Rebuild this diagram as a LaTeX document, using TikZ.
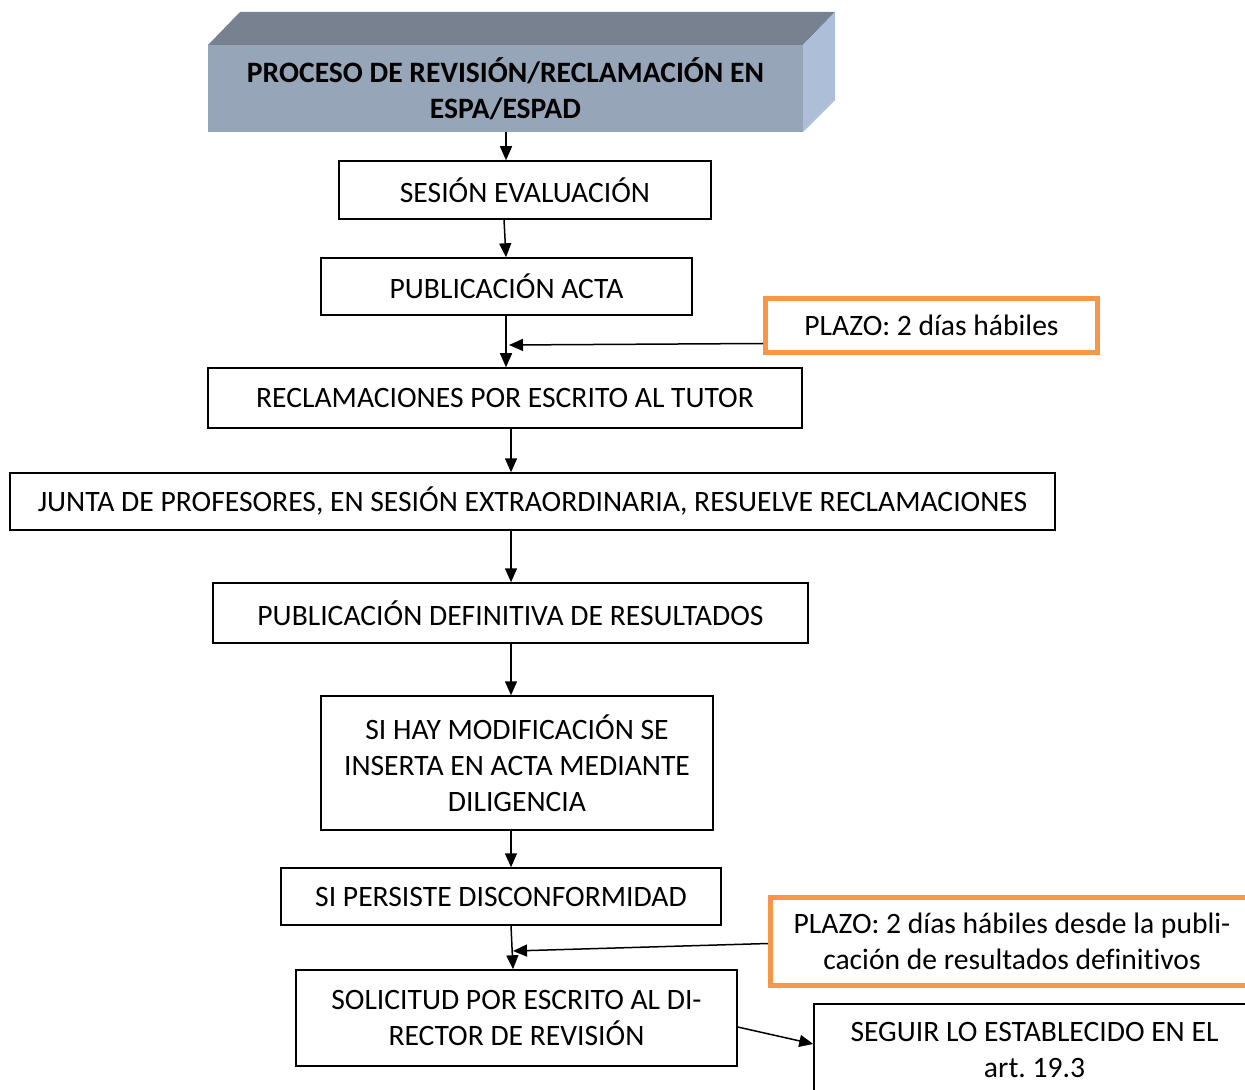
\documentclass[tikz,border=0pt]{standalone}
\usepackage{fontspec}
\setmainfont[Ligatures=NoCommon]{Carlito}
\usetikzlibrary{arrows.meta,positioning,calc}
\frenchspacing
\definecolor{plazoorange}{HTML}{F79646}
\definecolor{headtop}{HTML}{77818F}
\definecolor{headfront}{HTML}{97A5B8}
\definecolor{headside}{HTML}{ADBED8}
\tikzset{
  procbox/.style={
    draw=black,
    line width=0.75pt,
    inner sep=0pt,
    align=center,
    font=\fontsize{14.8}{18}\selectfont
  },
  plazobox/.style={
    draw=plazoorange,
    line width=2.5pt,
    inner sep=0pt,
    align=center,
    font=\fontsize{14.8}{18}\selectfont
  },
  procarrow/.style={-{Triangle[length=7pt,width=6pt]},line width=0.75pt,draw=black}
}

\begin{document}
\begin{tikzpicture}[x=0.5pt,y=-0.5pt]
\clip (0,0) rectangle (1245,1090);
% header block
\fill[headtop] (208,45) -- (240,12) -- (835,12) -- (803,45) -- cycle;
\fill[headside] (803,45) -- (835,12) -- (835,100) -- (803,132) -- cycle;
\node[fill=headfront,inner sep=0pt,minimum width=297.5pt,minimum height=43.5pt,
  align=center,font=\fontsize{14.8}{18}\selectfont\bfseries] (titulo) at (505.5,88.5)
  {PROCESO DE REVISIÓN/RECLAMACIÓN EN\\ESPA/ESPAD};
\coordinate (ejeA) at (506,0);
\coordinate (ejeB) at (511,0);
% flow
\node[procbox,minimum width=186pt,minimum height=29pt] (sesion) at (525,190) {SESIÓN EVALUACIÓN};
\node[procbox,minimum width=185.5pt,minimum height=28.5pt] (acta) at (506.5,286.5) {PUBLICACIÓN ACTA};
\node[plazobox,minimum width=166pt,minimum height=27pt] (plazo) at (931.5,325.5) {PLAZO: 2 días hábiles};
\node[procbox,minimum width=297pt,minimum height=30pt] (tutor) at (505,398) {RECLAMACIONES POR ESCRITO AL TUTOR};
\node[procbox,minimum width=522.5pt,minimum height=28.5pt] (junta) at (532.5,501.5) {JUNTA DE PROFESORES, EN SESIÓN EXTRAORDINARIA, RESUELVE RECLAMACIONES};
\node[procbox,minimum width=297.5pt,minimum height=30pt] (definitiva) at (510.5,613) {PUBLICACIÓN DEFINITIVA DE RESULTADOS};
\node[procbox,minimum width=196pt,minimum height=67pt] (modific) at (517,763) {SI HAY MODIFICACIÓN SE\\INSERTA EN ACTA MEDIANTE\\DILIGENCIA};
\node[procbox,minimum width=220pt,minimum height=28.5pt] (persiste) at (501,896.5) {SI PERSISTE DISCONFORMIDAD};
\node[plazobox,minimum width=241.75pt,minimum height=44pt] (plazodos) at (1012,941.5) {PLAZO: 2 días hábiles desde la publi-\\cación de resultados definitivos};
\node[procbox,minimum width=220.5pt,minimum height=48pt] (solicitud) at (516.5,1018) {SOLICITUD POR ESCRITO AL DI-\\RECTOR DE REVISIÓN};
\node[procbox,minimum width=220.5pt,minimum height=46pt] (seguir) at (1034.5,1050) {SEGUIR LO ESTABLECIDO EN EL\\art. 19.3};
\coordinate (m1) at (509,345);
\coordinate (m2) at (513,951);
\draw[procarrow] (titulo.south -| ejeA) -- (sesion.north -| ejeA);
\draw[procarrow] ([xshift=-10.5pt]sesion.south) -- (acta.north -| ejeA);
\draw[procarrow] (acta.south -| ejeA) -- (tutor.north -| ejeA);
\draw[procarrow] ([yshift=-9pt]plazo.west) -- (m1);
\draw[procarrow] (tutor.south -| ejeB) -- (junta.north -| ejeB);
\draw[procarrow] (junta.south -| ejeB) -- (definitiva.north -| ejeB);
\draw[procarrow] (definitiva.south -| ejeB) -- (modific.north -| ejeB);
\draw[procarrow] (modific.south -| ejeB) -- (persiste.north -| ejeB);
\draw[procarrow] (persiste.south -| ejeB) -- ([xshift=-1.75pt]solicitud.north);
\draw[procarrow] ([yshift=-1pt]plazodos.west) -- (m2);
\draw[procarrow] ([yshift=-4.5pt]solicitud.east) -- ([yshift=3pt]seguir.west);
\end{tikzpicture}
\end{document}
